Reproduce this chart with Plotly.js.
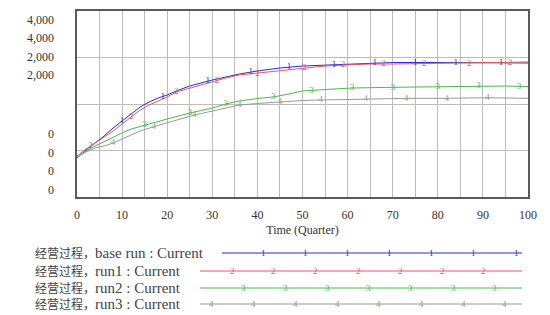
<!DOCTYPE html>
<html>
<head>
<meta charset="utf-8">
<script src="https://cdn.plot.ly/plotly-3.0.1.min.js"></script>
<style>html,body{margin:0;padding:0;background:#fff;}#chart{width:550px;height:315px;}</style>
</head>
<body>
<div id="chart"></div>
<script>
// ---- data ----
var seriesPrefix = "经营过程，";
var seriesNames = ["base run : Current", "run1 : Current", "run2 : Current", "run3 : Current"];
var markerLabels = ["1", "2", "3", "4"];

var baseT = [0, 2, 4, 6, 8, 10, 12, 14, 16, 18, 20, 22, 25, 28, 30, 33, 36, 40, 45, 50, 55, 60, 65, 70, 80, 90, 100];
var baseV = [839, 1011, 1161, 1312, 1484, 1634, 1785, 1935, 2043, 2129, 2194, 2280, 2387, 2473, 2516, 2581, 2645, 2710, 2774, 2817, 2839, 2860, 2882, 2892, 2892, 2892, 2882];

var run1T = [0, 2, 4, 6, 8, 10, 12, 14, 16, 18, 20, 22, 25, 28, 30, 33, 36, 40, 45, 50, 55, 60, 65, 70, 80, 90, 100];
var run1V = [882, 1032, 1161, 1290, 1419, 1570, 1720, 1871, 1978, 2065, 2151, 2258, 2344, 2430, 2473, 2559, 2624, 2667, 2720, 2774, 2817, 2839, 2860, 2860, 2871, 2892, 2903];

var run2T = [0, 2, 4, 6, 8, 10, 12, 15, 18, 20, 25, 30, 33, 36, 40, 43.5, 47, 50, 55, 61, 70, 80, 89, 95, 100];
var run2V = [860, 989, 1097, 1194, 1290, 1376, 1462, 1548, 1624, 1677, 1806, 1914, 2000, 2065, 2118, 2151, 2215, 2280, 2312, 2344, 2359, 2372, 2394, 2387, 2376];

var run3T = [0, 2, 4, 6, 8, 10, 12, 14, 17, 20, 23, 26, 30, 33, 36, 40, 45, 50, 54, 60, 64, 73, 82, 91, 100];
var run3V = [860, 968, 1054, 1097, 1161, 1247, 1333, 1419, 1512, 1591, 1677, 1763, 1849, 1914, 1978, 2011, 2050, 2075, 2086, 2097, 2107, 2122, 2122, 2135, 2122];

// line-number markers along each curve
var baseMT = [10, 19, 29, 38.5, 47, 57, 66, 75, 84, 94];
var baseMV = [1634, 2150, 2500, 2690, 2800, 2850, 2890, 2892, 2892, 2890];
var run1MT = [3, 12, 22, 31, 40, 50.5, 59, 68, 77, 87, 96];
var run1MV = [1100, 1720, 2258, 2500, 2660, 2774, 2839, 2860, 2865, 2875, 2880];
var run2MT = [15, 25, 33, 43.5, 52, 61, 70, 80, 89, 98];
var run2MV = [1548, 1806, 2000, 2151, 2290, 2344, 2359, 2372, 2394, 2380];
var run3MT = [8, 17, 26, 36, 45, 54, 64, 73, 82, 91];
var run3MV = [1161, 1512, 1763, 1978, 2050, 2086, 2107, 2122, 2122, 2135];

// axis tick labels as printed on the chart
var yTickVals = [3806, 3419, 3011, 2624, 1355, 946, 559, 151];
var yTickText = ["4,000", "4,000", "2,000", "2,000", "0", "0", "0", "0"];
var xTickVals = [0, 5, 10, 15, 20, 25, 30, 35, 40, 45, 50, 55, 60, 65, 70, 75, 80, 85, 90, 95, 100];
var xTickText = ["0", "", "10", "", "20", "", "30", "", "40", "", "50", "", "60", "", "70", "", "80", "", "90", "", "100"];
var yGridVals = [1000, 2000, 3000];

// ---- styles ----
var colors = ["#2b2bd6", "#e35b5b", "#4cb84c", "#9a9a9a"];
var serif = "'Liberation Serif', 'Times New Roman', 'Noto Sans CJK SC', serif";
var gridColor = '#bcbcbc';

var lineT = [baseT, run1T, run2T, run3T];
var lineV = [baseV, run1V, run2V, run3V];
var markT = [baseMT, run1MT, run2MT, run3MT];
var markV = [baseMV, run1MV, run2MV, run3MV];

var traces = [];
for (var i = 0; i < 4; i++) {
  traces.push({
    x: lineT[i], y: lineV[i], type: 'scatter', mode: 'lines',
    line: {color: colors[i], width: 1}, name: seriesPrefix + seriesNames[i], showlegend: false,
    hoverinfo: 'skip'
  });
}
for (var j = 0; j < 4; j++) {
  traces.push({
    x: markT[j], y: markV[j], type: 'scatter', mode: 'text', yaxis: 'y2',
    text: markT[j].map(function(){ return markerLabels[j]; }),
    textfont: {family: serif, size: 9, color: colors[j]},
    textposition: 'middle center', showlegend: false, hoverinfo: 'skip'
  });
}

// plot-area geometry (pixels)
var L = 77, R = 528, T = 11, B = 197, W = 550, H = 315;
function px2paperX(px) { return (px - L) / (R - L); }
function px2paperY(py) { return (B - py) / (B - T); }

var shapes = [];
var annotations = [];

var legendRows = [253, 271, 288, 304];
var legendLineStart = [222, 200, 200, 200];
var legendLineEnd = 522;
var legendMarks = [
  [263, 305, 347, 389, 431, 473, 516],
  [232, 273, 315, 358, 400, 442, 483],
  [243, 285, 327, 368, 410, 453, 494],
  [211, 253, 295, 337, 378, 421, 463, 504]
];
for (var r = 0; r < 4; r++) {
  var yp = px2paperY(legendRows[r]);
  shapes.push({type: 'line', xref: 'paper', yref: 'paper',
    x0: px2paperX(legendLineStart[r]), x1: px2paperX(legendLineEnd), y0: yp, y1: yp,
    line: {color: colors[r], width: 1}});
  annotations.push({xref: 'paper', yref: 'paper', x: px2paperX(33), y: yp,
    xanchor: 'left', yanchor: 'middle', showarrow: false,
    text: '<span style="font-size:12px">' + seriesPrefix + '</span>' + seriesNames[r],
    font: {family: serif, size: 15, color: '#444'}});
  legendMarks[r].forEach(function (mx) {
    annotations.push({xref: 'paper', yref: 'paper', x: px2paperX(mx), y: yp,
      xanchor: 'center', yanchor: 'middle', showarrow: false, text: markerLabels[r],
      font: {family: serif, size: 9, color: colors[r]}});
  });
}

var layout = {
  width: W, height: H,
  margin: {l: L, r: W - R, t: T, b: H - B, pad: 0},
  paper_bgcolor: '#fff', plot_bgcolor: 'rgba(0,0,0,0)',
  showlegend: false,
  xaxis: {
    range: [0, 100], tickmode: 'array', tickvals: xTickVals, ticktext: xTickText,
    showgrid: true, gridcolor: gridColor, gridwidth: 1, layer: 'above traces',
    zeroline: false,
    showline: true, mirror: true, linecolor: '#5a5a5a', linewidth: 2,
    ticks: '', ticklabelstandoff: 6,
    tickfont: {family: serif, size: 12, color: '#333'},
    title: {text: 'Time (Quarter)', font: {family: serif, size: 12, color: '#333'}, standoff: 4}
  },
  // main y axis: carries the horizontal grid lines and the frame
  yaxis: {
    range: [0, 4000], tickmode: 'array', tickvals: yGridVals, showticklabels: false,
    showgrid: true, gridcolor: gridColor, gridwidth: 1, layer: 'above traces',
    zeroline: false,
    showline: true, mirror: true, linecolor: '#5a5a5a', linewidth: 2,
    ticks: ''
  },
  // overlay y axis: carries the printed tick labels only
  yaxis2: {
    overlaying: 'y', anchor: 'x', side: 'left', range: [0, 4000],
    tickmode: 'array', tickvals: yTickVals, ticktext: yTickText,
    showgrid: false, zeroline: false, showline: false, ticks: '',
    ticklabelstandoff: 22,
    tickfont: {family: serif, size: 12, color: '#333'}
  },
  shapes: shapes,
  annotations: annotations
};

Plotly.newPlot('chart', traces, layout, {displayModeBar: false, staticPlot: true});
</script>
</body>
</html>
